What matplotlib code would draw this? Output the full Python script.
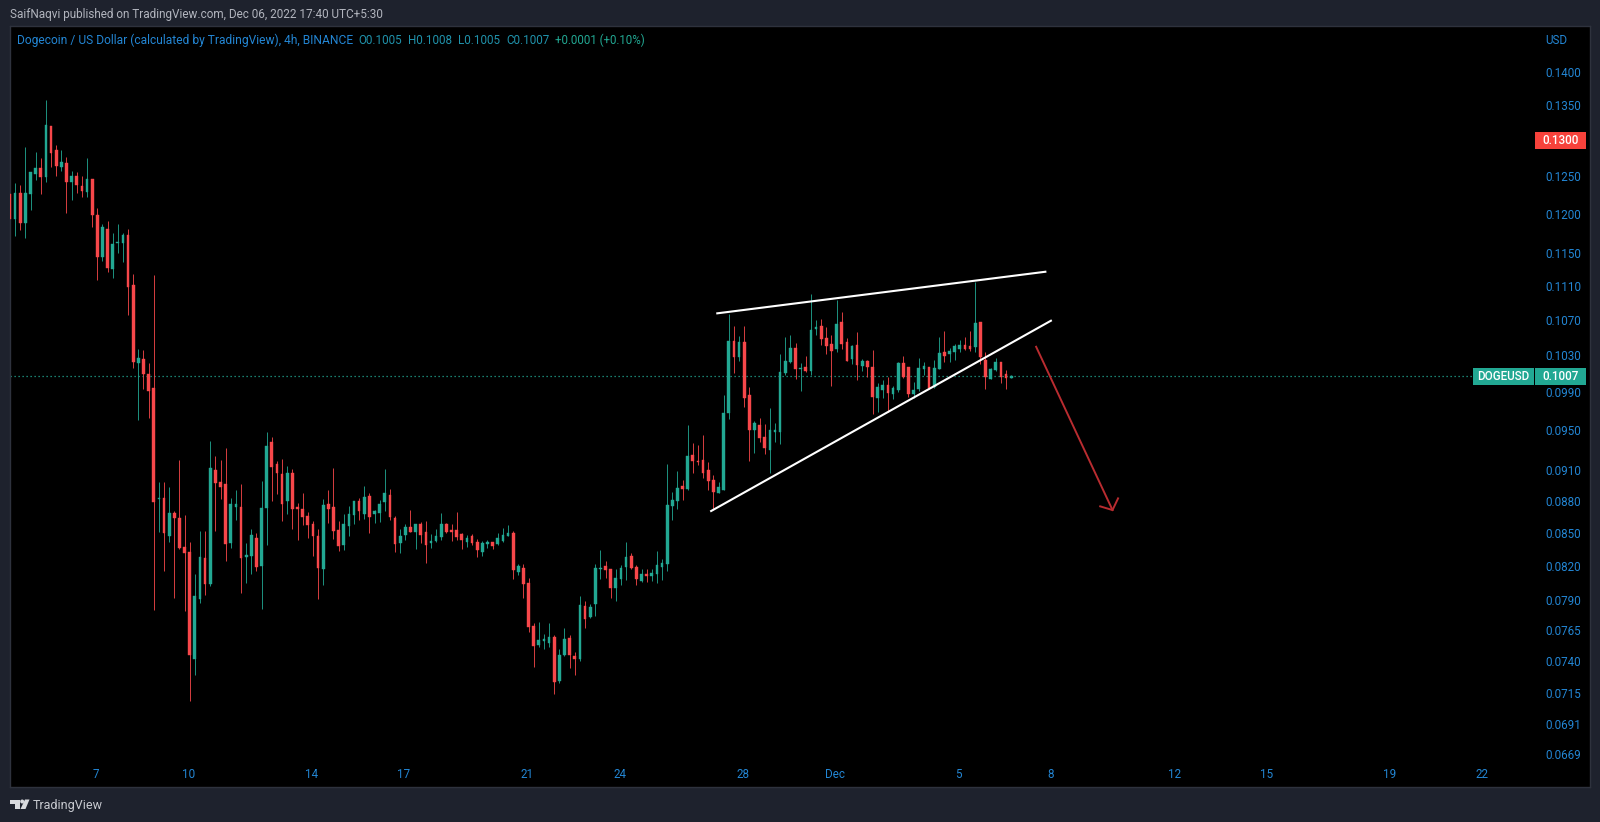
#!/usr/bin/python3

import matplotlib
matplotlib.use("Agg")
import matplotlib.pyplot as plt
import numpy as np
from matplotlib.patches import Circle, Polygon, Rectangle
from matplotlib.ticker import NullLocator
from matplotlib.transforms import Affine2D

# 4h DOGEUSD candles
opens = [
    0.12264, 0.11938, 0.12282, 0.11886, 0.12264, 0.12529, 0.12610, 0.12492, 0.13201, 0.12863,
    0.12632, 0.12684, 0.12425, 0.12502, 0.12372, 0.12292, 0.12461, 0.11994, 0.11461, 0.11809,
    0.11305, 0.11632, 0.11632, 0.11733, 0.11115, 0.10212, 0.10263, 0.10094, 0.09943, 0.08817,
    0.08826, 0.08471, 0.08682, 0.08638, 0.08370, 0.08325, 0.07415, 0.07915, 0.08274, 0.08043,
    0.09098, 0.08981, 0.08962, 0.08410, 0.08738, 0.08744, 0.08278, 0.08287, 0.08452, 0.08201,
    0.08729, 0.09379, 0.09157, 0.09058, 0.08800, 0.09068, 0.08738, 0.08725, 0.08657, 0.08581,
    0.08471, 0.08174, 0.08772, 0.08744, 0.08526, 0.08392, 0.08563, 0.08666, 0.08798, 0.08675,
    0.08845, 0.08675, 0.08685, 0.08791, 0.08855, 0.08638, 0.08407, 0.08480, 0.08554, 0.08508,
    0.08581, 0.08508, 0.08407, 0.08426, 0.08461, 0.08581, 0.08526, 0.08526, 0.08489, 0.08417,
    0.08471, 0.08417, 0.08328, 0.08398, 0.08417, 0.08398, 0.08426, 0.08471, 0.08498, 0.08147,
    0.08183, 0.08051, 0.07685, 0.07528, 0.07561, 0.07545, 0.07594, 0.07240, 0.07447, 0.07586,
    0.07439, 0.07415, 0.07856, 0.07760, 0.07870, 0.08174, 0.08198, 0.08171, 0.08009, 0.08086,
    0.08188, 0.08287, 0.08192, 0.08068, 0.08129, 0.08111, 0.08129, 0.08192, 0.08218, 0.08750,
    0.08800, 0.08942, 0.08913, 0.09247, 0.09190, 0.09197, 0.09095, 0.09000, 0.08874, 0.08903,
    0.09674, 0.10462, 0.10282, 0.10450, 0.09868, 0.09501, 0.09552, 0.09430, 0.09297, 0.09481,
    0.09481, 0.10102, 0.10224, 0.10382, 0.10150, 0.10172, 0.10127, 0.10597, 0.10632, 0.10495,
    0.10427, 0.10370, 0.10678, 0.10450, 0.10260, 0.10416, 0.10183, 0.10238, 0.10172, 0.09836,
    0.09922, 0.09975, 0.09879, 0.09922, 0.10213, 0.10172, 0.09879, 0.09932, 0.10150, 0.10175,
    0.09956, 0.10150, 0.10334, 0.10315, 0.10337, 0.10370, 0.10416, 0.10405, 0.10394, 0.10674,
    0.10249, 0.10040, 0.10138, 0.10224, 0.10091, 0.10050,
]
highs = [
    0.12264, 0.12408, 0.12381, 0.12905, 0.12564, 0.12835, 0.12753, 0.13578, 0.13201, 0.12934,
    0.12863, 0.12766, 0.12569, 0.12556, 0.12502, 0.12753, 0.12461, 0.12081, 0.11869, 0.11908,
    0.11755, 0.11869, 0.11755, 0.11809, 0.11244, 0.10370, 0.10359, 0.10220, 0.11235, 0.08978,
    0.08978, 0.08929, 0.08706, 0.09200, 0.08669, 0.08417, 0.08129, 0.08517, 0.08517, 0.09389,
    0.09240, 0.09194, 0.09317, 0.08826, 0.08903, 0.08962, 0.08407, 0.08532, 0.08496, 0.08990,
    0.09481, 0.09430, 0.09184, 0.09210, 0.09138, 0.09105, 0.08782, 0.08874, 0.08691, 0.08607,
    0.08532, 0.08817, 0.08903, 0.09115, 0.08610, 0.08673, 0.08753, 0.08800, 0.08826, 0.08942,
    0.08874, 0.08713, 0.08807, 0.09105, 0.08913, 0.08654, 0.08532, 0.08579, 0.08713, 0.08581,
    0.08600, 0.08610, 0.08489, 0.08535, 0.08682, 0.08591, 0.08581, 0.08694, 0.08498, 0.08480,
    0.08489, 0.08443, 0.08426, 0.08433, 0.08417, 0.08498, 0.08544, 0.08572, 0.08517, 0.08218,
    0.08218, 0.08094, 0.07710, 0.07718, 0.07618, 0.07710, 0.07610, 0.07495, 0.07668, 0.07610,
    0.07471, 0.07938, 0.07898, 0.07868, 0.08215, 0.08343, 0.08242, 0.08171, 0.08171, 0.08207,
    0.08417, 0.08314, 0.08207, 0.08171, 0.08171, 0.08171, 0.08337, 0.08260, 0.09154, 0.08884,
    0.09085, 0.08997, 0.09549, 0.09368, 0.09348, 0.09450, 0.09177, 0.09048, 0.08981, 0.09868,
    0.10771, 0.10632, 0.10518, 0.10632, 0.09953, 0.09591, 0.09622, 0.09563, 0.09730, 0.09570,
    0.10315, 0.10503, 0.10530, 0.10435, 0.10220, 0.10293, 0.11007, 0.10698, 0.10710, 0.10620,
    0.10530, 0.10935, 0.10791, 0.10492, 0.10416, 0.10564, 0.10260, 0.10249, 0.10359, 0.09997,
    0.10029, 0.10061, 0.09964, 0.10230, 0.10293, 0.10172, 0.10007, 0.10274, 0.10224, 0.10175,
    0.10249, 0.10503, 0.10575, 0.10378, 0.10427, 0.10473, 0.10503, 0.10575, 0.11151, 0.10674,
    0.10337, 0.10158, 0.10274, 0.10227, 0.10135, 0.10080,
]
lows = [
    0.11938, 0.11720, 0.11797, 0.11699, 0.12055, 0.12452, 0.12264, 0.12425, 0.12624, 0.12506,
    0.12569, 0.12020, 0.12185, 0.12278, 0.12225, 0.12225, 0.11835, 0.11175, 0.11411, 0.11268,
    0.11195, 0.11506, 0.11399, 0.10763, 0.10158, 0.09604, 0.09932, 0.09625, 0.07820, 0.08505,
    0.08156, 0.08419, 0.07919, 0.08349, 0.07812, 0.07085, 0.07287, 0.07876, 0.07944, 0.08028,
    0.08517, 0.08820, 0.08242, 0.08364, 0.08619, 0.07967, 0.08051, 0.08129, 0.08156, 0.07828,
    0.08392, 0.08800, 0.08867, 0.08610, 0.08675, 0.08535, 0.08436, 0.08572, 0.08452, 0.08292,
    0.07915, 0.08034, 0.08591, 0.08443, 0.08334, 0.08346, 0.08471, 0.08581, 0.08619, 0.08628,
    0.08498, 0.08591, 0.08600, 0.08704, 0.08619, 0.08328, 0.08319, 0.08433, 0.08505, 0.08352,
    0.08407, 0.08225, 0.08364, 0.08417, 0.08433, 0.08498, 0.08426, 0.08433, 0.08352, 0.08370,
    0.08389, 0.08283, 0.08292, 0.08361, 0.08352, 0.08389, 0.08417, 0.08471, 0.08086, 0.08120,
    0.07924, 0.07635, 0.07349, 0.07512, 0.07495, 0.07512, 0.07140, 0.07225, 0.07439, 0.07343,
    0.07287, 0.07399, 0.07668, 0.07752, 0.07769, 0.08086, 0.08094, 0.07924, 0.07896, 0.08034,
    0.08077, 0.08174, 0.08034, 0.08060, 0.08060, 0.08068, 0.08051, 0.08077, 0.08156, 0.08619,
    0.08720, 0.08807, 0.08903, 0.09068, 0.09148, 0.09019, 0.08903, 0.08713, 0.08871, 0.08903,
    0.09611, 0.10105, 0.10238, 0.09744, 0.09190, 0.09270, 0.09382, 0.09260, 0.09068, 0.09379,
    0.09358, 0.10083, 0.10213, 0.10040, 0.09914, 0.10113, 0.10083, 0.10530, 0.10416, 0.10315,
    0.09964, 0.10340, 0.10370, 0.10238, 0.10205, 0.10029, 0.10127, 0.10065, 0.09664, 0.09685,
    0.09836, 0.09685, 0.09825, 0.09900, 0.10050, 0.09846, 0.09836, 0.09911, 0.10083, 0.09932,
    0.09943, 0.10146, 0.10224, 0.10224, 0.10249, 0.10337, 0.10359, 0.10348, 0.10337, 0.10205,
    0.09932, 0.10037, 0.10127, 0.09997, 0.09932, 0.10050,
]
closes = [
    0.11938, 0.12282, 0.11886, 0.12282, 0.12556, 0.12610, 0.12492, 0.13211, 0.12822, 0.12646,
    0.12697, 0.12425, 0.12502, 0.12385, 0.12306, 0.12461, 0.11986, 0.11461, 0.11835, 0.11317,
    0.11619, 0.11644, 0.11733, 0.11091, 0.10224, 0.10274, 0.10094, 0.09911, 0.08791, 0.08829,
    0.08498, 0.08682, 0.08638, 0.08361, 0.08314, 0.07445, 0.07941, 0.08283, 0.08043, 0.09115,
    0.08971, 0.08933, 0.08401, 0.08770, 0.08770, 0.08269, 0.08296, 0.08480, 0.08192, 0.08735,
    0.09338, 0.09128, 0.09068, 0.08772, 0.09068, 0.08725, 0.08720, 0.08647, 0.08572, 0.08471,
    0.08183, 0.08760, 0.08720, 0.08517, 0.08380, 0.08581, 0.08673, 0.08798, 0.08704, 0.08836,
    0.08647, 0.08706, 0.08770, 0.08874, 0.08647, 0.08401, 0.08471, 0.08554, 0.08505, 0.08581,
    0.08480, 0.08389, 0.08426, 0.08471, 0.08581, 0.08508, 0.08508, 0.08461, 0.08433, 0.08455,
    0.08407, 0.08343, 0.08407, 0.08417, 0.08380, 0.08452, 0.08480, 0.08498, 0.08165, 0.08201,
    0.08043, 0.07677, 0.07520, 0.07570, 0.07578, 0.07594, 0.07232, 0.07449, 0.07578, 0.07447,
    0.07415, 0.07862, 0.07744, 0.07848, 0.08180, 0.08183, 0.08165, 0.08009, 0.08094, 0.08183,
    0.08278, 0.08180, 0.08086, 0.08129, 0.08111, 0.08138, 0.08207, 0.08225, 0.08760, 0.08807,
    0.08923, 0.08913, 0.09240, 0.09187, 0.09177, 0.09068, 0.08990, 0.08884, 0.08933, 0.09678,
    0.10462, 0.10285, 0.10450, 0.09836, 0.09501, 0.09576, 0.09420, 0.09317, 0.09501, 0.09501,
    0.10116, 0.10234, 0.10382, 0.10150, 0.10161, 0.10124, 0.10586, 0.10620, 0.10484, 0.10405,
    0.10348, 0.10655, 0.10427, 0.10238, 0.10405, 0.10191, 0.10238, 0.10175, 0.09846, 0.09953,
    0.09975, 0.09890, 0.09939, 0.10216, 0.10058, 0.09879, 0.09922, 0.10158, 0.10183, 0.09943,
    0.10158, 0.10323, 0.10293, 0.10348, 0.10405, 0.10416, 0.10370, 0.10370, 0.10666, 0.10282,
    0.10061, 0.10150, 0.10227, 0.10065, 0.10050, 0.10070,
]

first_day = 4.21  # days counted from Nov 0, Dec 1 = 31
bars_per_day = 6

date_ticks = [7, 10, 14, 17, 21, 24, 28, 31, 35, 38, 42, 45, 49, 52]
date_labels = ["7", "10", "14", "17", "21", "24", "28", "Dec", "5", "8", "12", "15", "19", "22"]
price_ticks = [0.1400, 0.1350, 0.1250, 0.1200, 0.1150, 0.1110, 0.1070, 0.1030, 0.0990, 0.0950,
               0.0910, 0.0880, 0.0850, 0.0820, 0.0790, 0.0765, 0.0740, 0.0715, 0.0691, 0.0669]
price_labels = ["%.4f" % p for p in price_ticks]

last_price = 0.1007
alert_price = 0.1300

wedge_top_x = [27.17, 37.82]
wedge_top_y = [0.10779, 0.11275]
wedge_bottom_x = [26.97, 38.00]
wedge_bottom_y = [0.08703, 0.10693]
arrow_x = [37.52, 40.00]
arrow_y = [0.10396, 0.08712]
arrow_head_x = [39.60, 40.00, 40.18]
arrow_head_y = [0.08747, 0.08712, 0.08823]

PAGE = "#1e222d"
EDGE = "#2e323d"
BLUE = "#2386d4"
GREEN = "#22a893"
RED = "#f7474a"
W, H = 1600, 822

fig = plt.figure(figsize=(W / 100, H / 100), dpi=100, facecolor=PAGE)
plt.rcParams["font.family"] = ["Roboto", "DejaVu Sans"]
px = Affine2D().scale(1, -1).translate(0, H)  # picture pixels, origin top left

ax = fig.add_axes([10 / W, 1 - 787 / H, 1580 / W, 761 / H], facecolor="black")
ax.set_yscale("log")
ax.set_xlim(first_day, 55.5)
ax.set_ylim(0.06456, 0.14710)

x = first_day + np.arange(len(opens)) / bars_per_day
o = np.array(opens)
c = np.array(closes)
colors = np.where(c >= o, GREEN, RED)

ax.vlines(x, lows, highs, colors=colors, linewidth=0.72, alpha=0.85, zorder=2)
ax.bar(x, np.abs(c - o), bottom=np.minimum(o, c), width=0.088, color=colors,
       edgecolor=colors, linewidth=0.3, zorder=3)

ax.hlines(last_price, first_day, first_day + (1473 - 10) / 30.8, colors=GREEN,
          linewidth=0.9, linestyles=(0, (1, 2.2)), zorder=1)

ax.plot(wedge_top_x, wedge_top_y, color="white", linewidth=1.5, zorder=4)
ax.plot(wedge_bottom_x, wedge_bottom_y, color="white", linewidth=1.5, zorder=4)
ax.plot(arrow_x, arrow_y, color="#b92c30", linewidth=1.4, zorder=4)
ax.plot(arrow_head_x, arrow_head_y, color="#b92c30", linewidth=1.4, zorder=4)

ax.yaxis.tick_right()
ax.set_yticks(price_ticks, price_labels)
ax.yaxis.set_minor_locator(NullLocator())
ax.tick_params(axis="y", length=0, pad=-32.4, labelsize=8.4, labelcolor=BLUE)
ax.tick_params(axis="y", which="minor", length=0)
ax.set_xticks(date_ticks, date_labels)
ax.tick_params(axis="x", length=0, pad=-14, labelsize=8.4, labelcolor=BLUE)
for spine in ax.spines.values():
    spine.set_color(EDGE)
    spine.set_linewidth(1)


def price_tag(price, left, right, text, color):
    yc = H - ax.transData.transform((30, price))[1]
    fig.add_artist(Rectangle((left, yc - 8.5), right - left, 17, transform=px,
                             facecolor=color, edgecolor="none", zorder=5))
    fig.text((left + right) / 2, yc, text, transform=px, color="white", fontsize=8.4,
             ha="center", va="center", zorder=6, fontweight="medium")


price_tag(alert_price, 1535, 1586, "%.4f" % alert_price, "#f7423b")
price_tag(last_price, 1535, 1586, "%.4f" % last_price, GREEN)
price_tag(last_price, 1473, 1534, "DOGEUSD", GREEN)

fig.text(10, 14.5, "SaifNaqvi published on TradingView.com, Dec 06, 2022 17:40 UTC+5:30",
         transform=px, color="#b2b5be", fontsize=8.5, va="center")
fig.text(17.4, 40, "Dogecoin / US Dollar (calculated by TradingView), 4h, BINANCE",
         transform=px, color=BLUE, fontsize=8.65, va="center")
for xpos, label in [(358, "O0.1005"), (407.6, "H0.1008"), (457.6, "L0.1005"), (506, "C0.1007")]:
    fig.text(xpos, 40, label, transform=px, color="#2093ac", fontsize=8.4, va="center")
fig.text(555, 40, "+0.0001 (+0.10%)", transform=px, color=GREEN, fontsize=8.3, va="center")
fig.text(1545, 40, "USD", transform=px, color=BLUE, fontsize=8.4, va="center")

# TradingView mark and name in the footer
logo = "#d8dade"
fig.add_artist(Polygon([(10, 799.5), (20, 799.5), (20, 809), (15, 809), (15, 803.5), (10, 803.5)],
                       transform=px, facecolor=logo, edgecolor="none"))
fig.add_artist(Circle((22.2, 801.5), 2, transform=px, facecolor=logo, edgecolor="none"))
fig.add_artist(Polygon([(25, 799.5), (29.5, 799.5), (25.5, 809), (20.5, 809)],
                       transform=px, facecolor=logo, edgecolor="none"))
fig.text(33, 805, "TradingView", transform=px, color="#c8cad0", fontsize=9.0, va="center")

fig.savefig("out.png", dpi=100, facecolor=PAGE)
